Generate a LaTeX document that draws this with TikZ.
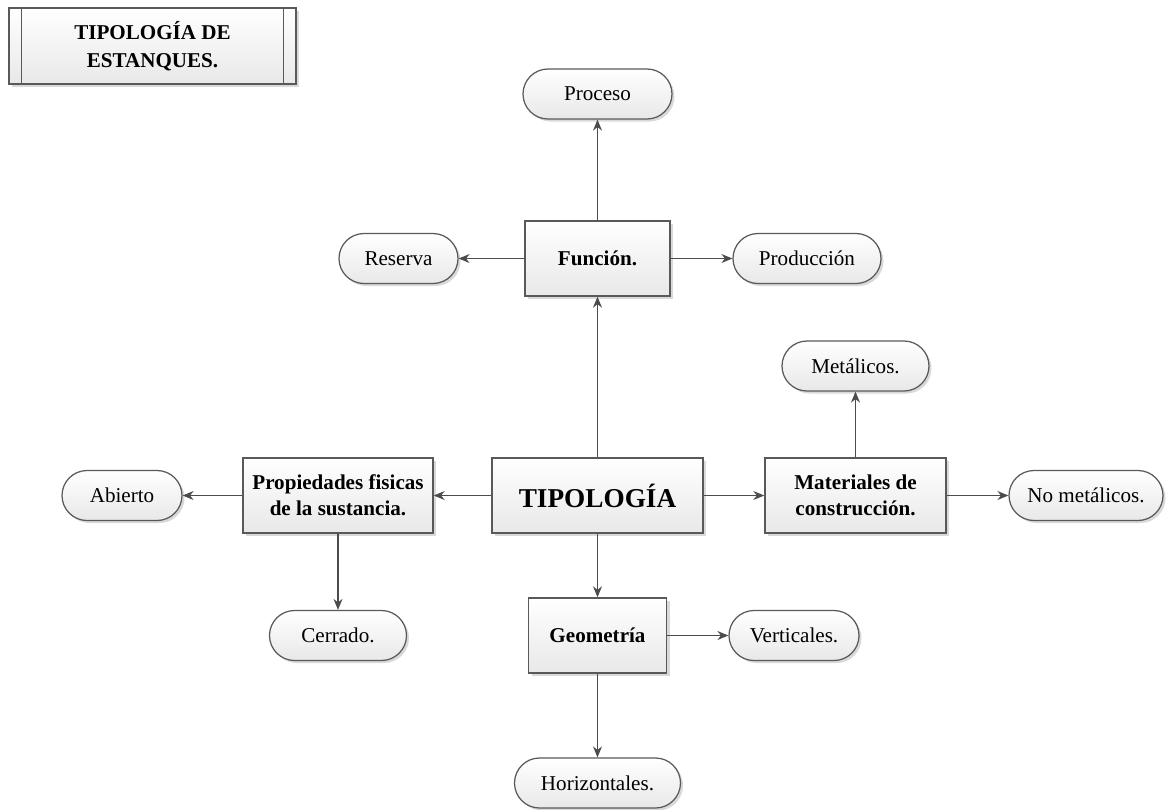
\documentclass[tikz,border=0pt]{standalone}
\usepackage{fontspec}
\setmainfont{Liberation Serif}
\usetikzlibrary{arrows.meta,shadows}
\tikzset{
	caja/.style={draw=black!65, line width=0.8pt, top color=white, bottom color=black!9,
		drop shadow={shadow xshift=0.6mm, shadow yshift=-0.6mm, fill=black!25, opacity=0.6},
		inner sep=0pt, align=center, font=\bfseries\fontsize{12}{15}\selectfont},
	ovalo/.style={draw=black!65, line width=0.7pt, rounded corners=0.5cm, top color=white, bottom color=black!9,
		drop shadow={shadow xshift=0.5mm, shadow yshift=-0.5mm, fill=black!25, opacity=0.6},
		inner sep=0pt, minimum height=1cm, align=center, font=\fontsize{12}{15}\selectfont},
	flecha/.style={draw=black!70, line width=0.6pt, -{Stealth[length=2.2mm,width=1.8mm]}}
}
\begin{document}
\begin{tikzpicture}
			%%%%% START %%%%%
			
			\useasboundingbox (0, 0) rectangle (23.46, -16.18);
			
			\node[caja, minimum width=5.74cm, minimum height=1.52cm, font=\bfseries\fontsize{12}{16}\selectfont] (titulo) at (3.05, -0.92) {TIPOLOGÍA DE\\ESTANQUES.};
			\draw[black!65, line width=0.8pt] ([xshift=0.26cm]titulo.north west) -- ([xshift=0.26cm]titulo.south west);
			\draw[black!65, line width=0.8pt] ([xshift=-0.26cm]titulo.north east) -- ([xshift=-0.26cm]titulo.south east);
			
			\node[caja, minimum width=4.22cm, minimum height=1.5cm, font=\bfseries\fontsize{15.5}{18}\selectfont] (tipo) at (11.95, -9.91) {TIPOLOGÍA};
			
			\node[caja, minimum width=2.9cm, minimum height=1.5cm] (funcion) at (11.95, -5.17) {Función.};
			\node[caja, minimum width=3.8cm, minimum height=1.5cm] (prop) at (6.76, -9.91) {Propiedades fisicas\\de la sustancia.};
			\node[caja, minimum width=3.62cm, minimum height=1.5cm] (mat) at (17.11, -9.91) {Materiales de\\construcción.};
			\node[caja, minimum width=2.76cm, minimum height=1.5cm] (geo) at (11.95, -12.71) {Geometría};
			
			\node[ovalo, minimum width=2.98cm] (proceso) at (11.95, -1.88) {Proceso};
			\node[ovalo, minimum width=2.38cm] (reserva) at (7.97, -5.17) {Reserva};
			\node[ovalo, minimum width=2.96cm] (produccion) at (16.14, -5.17) {Producción};
			\node[ovalo, minimum width=2.94cm] (metal) at (17.11, -7.32) {Metálicos.};
			\node[ovalo, minimum width=3.08cm] (nometal) at (21.72, -9.91) {No metálicos.};
			\node[ovalo, minimum width=2.4cm] (abierto) at (2.44, -9.91) {Abierto};
			\node[ovalo, minimum width=2.74cm] (cerrado) at (6.76, -12.71) {Cerrado.};
			\node[ovalo, minimum width=2.6cm] (vert) at (15.88, -12.71) {Verticales.};
			\node[ovalo, minimum width=3.32cm] (horiz) at (11.95, -15.66) {Horizontales.};
			
			\draw[flecha] (funcion) -- (proceso);
			\draw[flecha] (funcion) -- (reserva);
			\draw[flecha] (funcion) -- (produccion);
			
			\draw[flecha] (tipo) -- (funcion);
			\draw[flecha] (tipo) -- (prop);
			\draw[flecha] (tipo) -- (mat);
			\draw[flecha] (tipo) -- (geo);
			
			\draw[flecha] (prop) -- (abierto);
			\draw[flecha] (prop) -- (cerrado);
			\draw[flecha] (mat) -- (metal);
			\draw[flecha] (mat) -- (nometal);
			\draw[flecha] (geo) -- (vert);
			\draw[flecha] (geo) -- (horiz);
			
			%%%%% END %%%%%
\end{tikzpicture}
\end{document}
